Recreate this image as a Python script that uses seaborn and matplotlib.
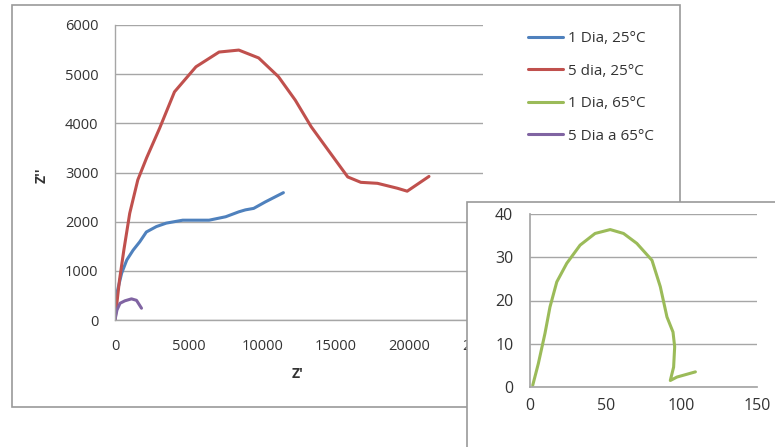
import matplotlib
matplotlib.use("Agg")
import matplotlib.pyplot as plt
from matplotlib.patches import Rectangle
from matplotlib.lines import Line2D
import seaborn as sns
import pandas as pd

# Nyquist data: real part Z' and imaginary part Z''
blue_label = "1 Dia, 25°C"
blue_x = [0, 130, 450, 800, 1230, 1680, 2130, 2810, 3480, 4600, 5720, 6390, 7520, 8410, 8860, 9420, 10200, 11440]
blue_y = [0, 550, 950, 1220, 1420, 1590, 1790, 1900, 1970, 2030, 2030, 2030, 2100, 2200, 2240, 2270, 2400, 2590]

red_label = "5 dia, 25°C"
red_x = [0, 300, 600, 1000, 1550, 2150, 3030, 4040, 5500, 7070, 8410, 9760, 11100, 12250, 13330, 14470, 15810, 16700, 17830, 19180, 19850, 21330]
red_y = [0, 800, 1420, 2170, 2850, 3300, 3900, 4640, 5150, 5450, 5490, 5330, 4950, 4470, 3930, 3460, 2910, 2800, 2780, 2680, 2620, 2920]

purple_label = "5 Dia a 65°C"
purple_x = [0, 130, 340, 670, 1120, 1460, 1800]
purple_y = [0, 200, 340, 390, 430, 400, 240]

green_label = "1 Dia, 65°C"
green_x = [1.8, 5.5, 9.9, 13.2, 17.7, 24.3, 33.1, 43.0, 53.0, 61.8, 70.6, 80.6, 86.1, 90.5, 94.5, 95.6, 94.9, 92.7, 97.1, 109.3]
green_y = [0.4, 5.4, 12.4, 18.5, 24.3, 28.6, 32.8, 35.5, 36.4, 35.5, 33.2, 29.3, 23.2, 16.2, 12.7, 9.3, 4.6, 1.5, 2.3, 3.5]

main_ticks_x = [0, 5000, 10000, 15000, 20000, 25000]
main_ticks_y = [0, 1000, 2000, 3000, 4000, 5000, 6000]
inset_ticks_x = [0, 50, 100, 150]
inset_ticks_y = [0, 10, 20, 30, 40]

colors = {blue_label: "#4F81BD", red_label: "#C0504D",
          green_label: "#9BBB59", purple_label: "#8064A2"}

main_df = pd.concat([
    pd.DataFrame({"x": blue_x, "y": blue_y, "serie": blue_label}),
    pd.DataFrame({"x": red_x, "y": red_y, "serie": red_label}),
    pd.DataFrame({"x": purple_x, "y": purple_y, "serie": purple_label}),
], ignore_index=True)
inset_df = pd.DataFrame({"x": green_x, "y": green_y, "serie": green_label})

sns.set_theme(style="white")
plt.rcParams["font.family"] = ["Open Sans", "DejaVu Sans"]

W, H = 775, 447
fig = plt.figure(figsize=(W / 100, H / 100), dpi=100)
fig.patch.set_facecolor("white")


def fx(px):
    return px / W


def fy(py):
    return 1 - py / H


grid_c = "#a6a6a6"
text_c = "#333333"
lw = 2.2

# outer frame of the main chart
fig.patches.append(Rectangle((fx(12), fy(407)), fx(680) - fx(12), fy(5) - fy(407),
                             transform=fig.transFigure, facecolor="white",
                             edgecolor="#9a9a9a", linewidth=1.2, zorder=-1))

ax = fig.add_axes([fx(115), fy(320), fx(483) - fx(115), fy(25) - fy(320)])
sns.lineplot(data=main_df, x="x", y="y", hue="serie", palette=colors, sort=False,
             estimator=None, linewidth=lw, ax=ax, legend=False)
ax.set_xlim(0, 25000)
ax.set_ylim(0, 6000)
ax.set_xticks(main_ticks_x)
ax.set_yticks(main_ticks_y)
ax.grid(axis="y", color=grid_c, linewidth=1.0)
ax.grid(axis="x", visible=False)
for s in ["top", "right"]:
    ax.spines[s].set_visible(False)
for s in ["left", "bottom"]:
    ax.spines[s].set_color(grid_c)
    ax.spines[s].set_linewidth(1.0)
ax.tick_params(axis="both", labelsize=10.5, colors=text_c, length=0)
ax.tick_params(axis="x", pad=14)
ax.tick_params(axis="y", pad=12)
# the last x label sits partly under the inset frame
for lab in ax.get_xticklabels():
    lab.set_zorder(0)
ax.set_xlabel("Z'", fontsize=10, fontweight="bold", color=text_c)
ax.set_ylabel("Z''", fontsize=10, fontweight="bold", color=text_c)
ax.xaxis.set_label_coords(0.495, -0.159)
ax.yaxis.set_label_coords(-0.18, 0.49)

# inset frame with the 65°C, 1 day curve
fig.patches.append(Rectangle((fx(467), fy(460)), fx(790) - fx(467), fy(202) - fy(460),
                             transform=fig.transFigure, facecolor="white",
                             edgecolor="#9a9a9a", linewidth=1.2, zorder=1))

ax2 = fig.add_axes([fx(530), fy(387), fx(757) - fx(530), fy(214) - fy(387)], zorder=2)
sns.lineplot(data=inset_df, x="x", y="y", hue="serie", palette=colors, sort=False,
             estimator=None, linewidth=lw, ax=ax2, legend=False)
ax2.set_xlim(0, 150)
ax2.set_ylim(0, 40)
ax2.set_xticks(inset_ticks_x)
ax2.set_yticks(inset_ticks_y)
ax2.patch.set_alpha(0)
ax2.grid(axis="y", color=grid_c, linewidth=1.0)
ax2.grid(axis="x", visible=False)
for s in ["top", "right"]:
    ax2.spines[s].set_visible(False)
for s in ["left", "bottom"]:
    ax2.spines[s].set_color(grid_c)
ax2.tick_params(axis="both", labelsize=11.5, colors=text_c, length=3, width=1.0)
ax2.tick_params(axis="x", color=grid_c, pad=5)
ax2.tick_params(axis="y", color=grid_c, pad=9)
ax2.set_xlabel("")
ax2.set_ylabel("")

# legend for all four series
order = [blue_label, red_label, green_label, purple_label]
leg_handles = [Line2D([0], [0], color=colors[k], linewidth=lw) for k in order]
fig.legend(leg_handles, order, loc="upper left", bbox_to_anchor=(fx(528), fy(31)),
           frameon=False, fontsize=11, handlelength=2.3, handletextpad=0.33,
           labelspacing=1.15, borderpad=0, borderaxespad=0, labelcolor=text_c)

fig.savefig("out.png", dpi=100, facecolor="white")
